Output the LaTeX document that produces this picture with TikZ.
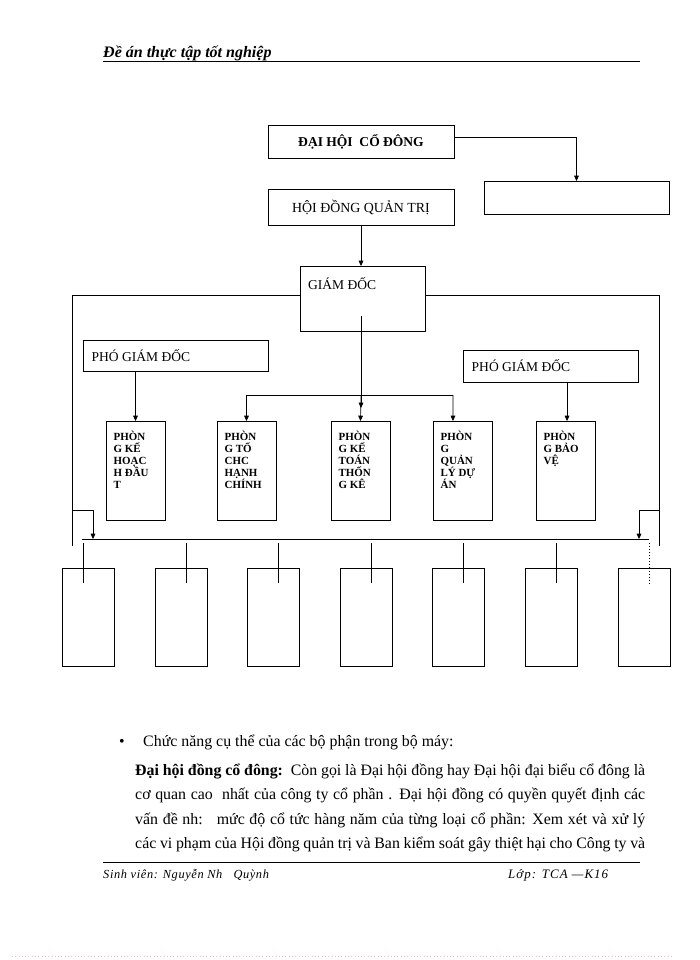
\documentclass[tikz,border=0pt]{standalone}
\usepackage{fontspec}
\setmainfont{Liberation Serif}
\usetikzlibrary{arrows.meta,fit}
\definecolor{dotpink}{RGB}{225,195,205}
\newcommand\bodyfont{\fontsize{13.5}{16}\selectfont}
\newcommand\regfont{\fontsize{11.5}{13}\selectfont}
\newcommand\ptfont{\fontsize{9.3}{10.2}\selectfont\bfseries}
\begin{document}
\begin{tikzpicture}[x=0.85pt,y=-0.85pt,
  box/.style={draw, line width=0.6pt, inner sep=0pt, outer sep=0pt},
  ln/.style={line width=0.6pt},
  arr/.style={line width=0.6pt, -{Triangle[length=4.5pt,width=4pt]}},
  pglab/.style={anchor=west, inner sep=0pt, font=\regfont, xshift=7.2pt},
  ctlab/.style={anchor=center, inner sep=0pt},
  ptext/.style={anchor=north west, align=left, inner sep=0pt, font=\ptfont, xshift=6.3pt, yshift=-8pt},
  bodyline/.style={anchor=base west, inner sep=0pt, font=\bodyfont}]
\fill[white] (0,0) rectangle (700,960);
\useasboundingbox (0,0) rectangle (700,960);

% header
\node[anchor=base west, inner sep=0pt, font=\fontsize{13.6}{15}\selectfont\bfseries\itshape] (hdr) at (103,57) {Đề án thực tập tốt nghiệp};
\coordinate (hl1) at (103,61);
\coordinate (hl2) at (640,61);
\draw[line width=0.5pt] (hl1) -- (hl2);

% top boxes
\node[box, fit={(268,125) (454,158)}, label={[ctlab, font=\fontsize{11.5}{12}\selectfont\bfseries]center:ĐẠI HỘI\ \ CỔ ĐÔNG}] (dh) {};
\node[box, fit={(484,181) (669,214)}] (bks) {};
\node[box, fit={(268,189) (454,225)}, label={[ctlab, font=\fontsize{11.8}{13}\selectfont]center:HỘI ĐỒNG QUẢN TRỊ}] (hdqt) {};
\node[box, fit={(300,266) (425,331)}, label={[pglab, xshift=-0.5pt, yshift=13pt]west:GIÁM ĐỐC}] (gd) {};

\draw[arr] ([yshift=3.4pt]dh.east) -| (bks.north);
\draw[arr] (hdqt.south) -- (hdqt.south |- gd.north);

% vice directors
\node[box, fit={(83,340) (268,371)}, label={[pglab]west:PHÓ GIÁM ĐỐC}] (pg1) {};
\node[box, fit={(463,350) (638,382)}, label={[pglab]west:PHÓ GIÁM ĐỐC}] (pg2) {};

% departments
\node[box, fit={(106,421) (165,520)}, label={[ptext]north west:PHÒN\\G KẾ\\HOẠC\\H ĐẦU\\T}] (A) {};
\node[box, fit={(217,421) (276,520)}, label={[ptext]north west:PHÒN\\G TỔ\\CHC\\HẠNH\\CHÍNH}] (B) {};
\node[box, fit={(331,421) (390,520)}, label={[ptext]north west:PHÒN\\G KẾ\\TOÁN\\THỐN\\G KÊ}] (C) {};
\node[box, fit={(433,421) (492,520)}, label={[ptext]north west:PHÒN\\G\\QUẢN\\LÝ DỰ\\ÁN}] (D) {};
\node[box, fit={(536,421) (595,520)}, label={[ptext]north west:PHÒN\\G BẢO\\VỆ}] (E) {};

\draw[arr] (A.north |- pg1.south) -- (A.north);
\draw[arr] ([xshift=1.3pt]E.north |- pg2.south) -- ([xshift=1.3pt]E.north);

\coordinate (gdin) at (361,316);
\coordinate (gdarr) at (361,408);
\coordinate (brC) at (361,395);
\coordinate (brB) at (B.north |- brC);
\coordinate (brD) at (453,395);
\coordinate (dtop) at ([xshift=-8.1pt]D.north);
\draw[arr] (gdin) -- (gdarr);
\draw[arr] (brC) -- (C.north);
\draw[ln] (brB) -- (brD);
\draw[arr] (brB) -- (B.north);
\draw[arr] (brD) -- (dtop);

% side lines from director
\coordinate (Ltop) at (72,295);
\coordinate (Lbot) at (72,546);
\coordinate (Rtop) at (659,295);
\coordinate (Rbot) at (659,546);
\draw[ln] (Lbot) -- (Ltop) -- (Ltop -| gd.west);
\draw[ln] (Rbot) -- (Rtop) -- (Rtop -| gd.east);
\coordinate (Lbr) at (72,510);
\coordinate (Rbr) at (659,510);
\coordinate (busL) at (82,539);
\coordinate (busR) at (649,539);
\coordinate (busLa) at (93,539);
\coordinate (busRa) at (639,539);
\draw[arr] (Lbr) -| (busLa);
\draw[arr] (Rbr) -| (busRa);
\draw[line width=0.8pt] (busL) -- (busR);

% bottom boxes
\foreach \i/\l in {1/62, 2/155, 3/247, 4/340, 5/432, 6/525, 7/618} {
  \node[box, fit={(\l,568) (\l+52,666)}] (b\i) {};
}
\foreach \x in {83,186,278,371,463,556} {
  \draw[ln] (\x,543) -- (\x,583);
}
\draw[line width=0.6pt, dotted] (649,543) -- (649,583);

% text below
\node[bodyline] (bul) at (119,746) {•};
\node[bodyline] (cn) at (143,746) {Chức năng cụ thể của các bộ phận trong bộ máy:};
\node[bodyline] (l1) at (135,775) {\hbox to 433.5pt{\textbf{Đại hội đồng cổ đông:}\ \ Còn gọi là Đại hội đồng hay Đại hội đại biểu cổ đông là}};
\node[bodyline] (l2) at (135,799) {\hbox to 433.5pt{cơ quan cao\ \ nhất của công ty cổ phần . Đại hội đồng có quyền quyết định các}};
\node[bodyline] (l3) at (135,824) {\hbox to 433.5pt{vấn đề nh:\ \ \ mức độ cổ tức hàng năm của từng loại cổ phần: Xem xét và xử lý}};
\node[bodyline] (l4) at (135,848) {\hbox to 433.5pt{các vi phạm của Hội đồng quản trị và Ban kiểm soát gây thiệt hại cho Công ty và}};

% footer
\coordinate (fl1) at (103,862);
\coordinate (fl2) at (640,862);
\draw[line width=0.5pt] (fl1) -- (fl2);
\node[anchor=base west, inner sep=0pt, font=\fontsize{10.5}{12}\selectfont\itshape\addfontfeature{LetterSpace=5}] (sv) at (103,878) {Sinh viên: Nguyễn Nh\ \ \ Quỳnh};
\node[anchor=base west, inner sep=0pt, font=\fontsize{11}{12}\selectfont\itshape\addfontfeature{LetterSpace=8}] (lop) at (508,878) {Lớp: TCA —K16};

\coordinate (dl1) at (12,956);
\coordinate (dl2) at (673,956);
\draw[dotpink, line width=0.8pt, dotted] (dl1) -- (dl2);
\end{tikzpicture}
\end{document}
